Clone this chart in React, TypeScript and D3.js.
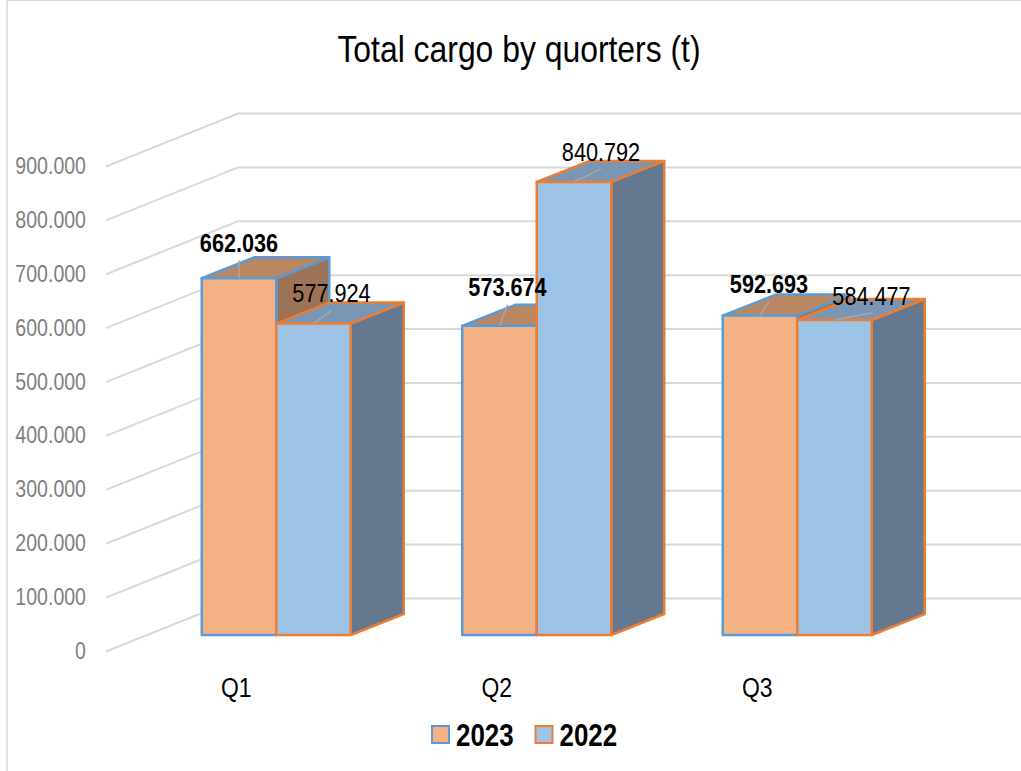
import React from 'react'
import * as d3 from 'd3'

const categories = ['Q1', 'Q2', 'Q3']
const seriesNames = ['2023', '2022']
const values2023 = [662.036, 573.674, 592.693]
const values2022 = [577.924, 840.792, 584.477]
const yTicks = [0, 100, 200, 300, 400, 500, 600, 700, 800, 900]
const labels2023 = ['662.036', '573.674', '592.693']
const labels2022 = ['577.924', '840.792', '584.477']

const colors: Record<string, { front: string; top: string; side: string; stroke: string }> = {
  '2023': { front: '#F4B183', top: '#B98863', side: '#9C7356', stroke: '#5B9BD5' },
  '2022': { front: '#9DC3E6', top: '#7A96B5', side: '#64798F', stroke: '#ED7D31' },
}

// hand placed data labels, relative to bar front top centre
const labelOffsets: Record<string, [number, number][]> = {
  '2023': [[0, -35], [8, -38], [9, -31]],
  '2022': [[18, -30], [27, -30], [37, -24]],
}

const WIDTH = 1021
const HEIGHT = 771
const DEPTH_X = 53
const DEPTH_Y = -21
const SQUEEZE = 0.85

const x0 = d3.scaleBand<string>().domain(categories).range([146, 927.5])
const x1 = d3.scaleBand<string>().domain(seriesNames).range([0, 149])
const y = d3.scaleLinear().domain([0, 900]).range([635, 150])

const FLOOR_FRONT = 16.5
const WALL_BACK = -36.5

const Narrow = ({ x, y: ty, size, anchor = 'middle', weight = 400, fill = '#000', children }: any) => (
  <text
    transform={`translate(${x},${ty}) scale(${SQUEEZE},1)`}
    fontSize={size}
    fontWeight={weight}
    fill={fill}
    textAnchor={anchor}
    dominantBaseline="central"
    fontFamily="'Liberation Sans', Arial, sans-serif"
  >
    {children}
  </text>
)

export default function App() {
  const bars = categories.flatMap((cat, i) => [
    { cat, i, name: '2023', value: values2023[i], label: labels2023[i] },
    { cat, i, name: '2022', value: values2022[i], label: labels2022[i] },
  ])

  return (
    <svg
      width={WIDTH}
      height={HEIGHT}
      style={{ position: 'absolute', left: 0, top: 0, background: '#fff' }}
    >
      {/* chart frame */}
      <line x1={7} x2={7} y1={0} y2={HEIGHT} stroke="#D9D9D9" strokeWidth={1.5} />
      <line x1={7} x2={WIDTH} y1={0.5} y2={0.5} stroke="#D9D9D9" strokeWidth={1} />

      <Narrow x={519} y={49} size={37.5}>
        Total cargo by quorters (t)
      </Narrow>

      {/* gridlines on wall and floor */}
      {yTicks.map(t => (
        <path
          key={t}
          d={`M106,${y(t) + FLOOR_FRONT}L238,${y(t) + WALL_BACK}H${WIDTH}`}
          fill="none"
          stroke="#D9D9D9"
          strokeWidth={2}
        />
      ))}

      {yTicks.map(t => (
        <Narrow key={t} x={86} y={y(t) + FLOOR_FRONT} size={23} anchor="end" fill="#7F7F7F">
          {t === 0 ? '0' : `${t}.000`}
        </Narrow>
      ))}

      {bars.map(b => {
        const c = colors[b.name]
        const left = x0(b.cat)! + (x0.bandwidth() - 149) / 2 + x1(b.name)!
        const right = left + x1.bandwidth()
        const top = y(b.value)
        const base = y(0)
        return (
          <g key={b.cat + b.name} stroke={c.stroke} strokeWidth={2.5} strokeLinejoin="round">
            <path
              d={`M${right},${base}L${right + DEPTH_X},${base + DEPTH_Y}V${top + DEPTH_Y}L${right},${top}Z`}
              fill={c.side}
            />
            <path
              d={`M${left},${top}L${left + DEPTH_X},${top + DEPTH_Y}H${right + DEPTH_X}L${right},${top}Z`}
              fill={c.top}
            />
            <rect x={left} y={top} width={right - left} height={base - top} fill={c.front} />
          </g>
        )
      })}

      {bars.map(b => {
        const center = x0(b.cat)! + (x0.bandwidth() - 149) / 2 + x1(b.name)! + x1.bandwidth() / 2
        const top = y(b.value)
        const [dx, dy] = labelOffsets[b.name][b.i]
        return (
          <g key={b.cat + b.name}>
            <line
              x1={center}
              y1={top}
              x2={center + dx}
              y2={top + dy + 17}
              stroke="#A6A6A6"
              strokeWidth={1.5}
            />
            <Narrow
              x={center + dx}
              y={top + dy}
              size={25.5}
              weight={b.name === '2023' ? 700 : 400}
            >
              {b.label}
            </Narrow>
          </g>
        )
      })}

      {categories.map(cat => (
        <Narrow key={cat} x={x0(cat)! + x0.bandwidth() / 2 - 40} y={687} size={27}>
          {cat}
        </Narrow>
      ))}

      {/* legend */}
      {seriesNames.map((name, i) => {
        const lx = 432 + i * 103.5
        return (
          <g key={name}>
            <rect
              x={lx}
              y={726}
              width={17}
              height={17}
              fill={colors[name].front}
              stroke={colors[name].stroke}
              strokeWidth={2}
            />
            <Narrow x={lx + 24} y={735} size={30.5} anchor="start" weight={700}>
              {name}
            </Narrow>
          </g>
        )
      })}
    </svg>
  )
}
